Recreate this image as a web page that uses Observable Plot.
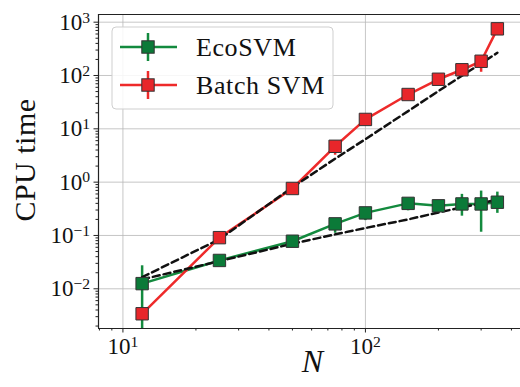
<!DOCTYPE html>
<html><head><meta charset="utf-8">
<script src="https://cdn.jsdelivr.net/npm/d3@7"></script>
<script src="https://cdn.jsdelivr.net/npm/@observablehq/plot@0.6"></script>
<style>
body{margin:0;background:#fff;overflow:hidden}
#chart{position:relative;width:520px;height:387px}
</style></head><body><div id="chart"></div>
<script>
// ---- data ----
const N = [12, 25, 50, 75, 100, 150, 200, 250, 300, 350];
const ecoTime = [0.0125, 0.034, 0.078, 0.165, 0.265, 0.40, 0.36, 0.39, 0.39, 0.42];
const ecoLow  = [0.0005, 0.031, 0.072, 0.11, 0.19, 0.29, 0.33, 0.23, 0.115, 0.26];
const ecoHigh = [0.027, 0.037, 0.085, 0.20, 0.30, 0.45, 0.40, 0.59, 0.68, 0.65];
const ecoFit  = [0.015, 0.033, 0.07, 0.105, 0.138, 0.20, 0.27, 0.335, 0.40, 0.47];
const batchTime = [0.0034, 0.091, 0.76, 4.7, 15, 44, 85, 128, 185, 750];
const batchLow  = [0.0030, 0.085, 0.72, 3.2, 14, 41, 80, 120, 115, 720];
const batchHigh = [0.0038, 0.097, 0.80, 5.8, 16, 47, 90, 136, 230, 780];
const batchFit  = [0.0165, 0.085, 0.8, 2.75, 6.4, 21.5, 51, 99, 168, 267];
const seriesNames = ["EcoSVM", "Batch SVM"];
const seriesColors = ["#138a3e", "#ee2a2a"];
const markerFills = ["#0b7a38", "#e8262a"];
const yMajor = [1e-2, 1e-1, 1e0, 1e1, 1e2, 1e3];
const xMajor = [1e1, 1e2];
const xDomain = [7.93, 436];
const yDomain = [0.0018, 1393];
const yLabel = "CPU time";
const xLabel = "N";

const eco = N.map((n, i) => ({N: n, t: ecoTime[i], lo: ecoLow[i], hi: ecoHigh[i], fit: ecoFit[i]}));
const batch = N.map((n, i) => ({N: n, t: batchTime[i], lo: batchLow[i], hi: batchHigh[i], fit: batchFit[i]}));

const yMinor = [];
for (let e = -3; e <= 3; e++) for (let k = 2; k <= 9; k++) { const v = k * 10 ** e; if (v >= yDomain[0] && v <= yDomain[1]) yMinor.push(v); }
const xMinor = [];
for (let e = 0; e <= 2; e++) for (let k = 2; k <= 9; k++) { const v = k * 10 ** e; if (v >= xDomain[0] && v <= xDomain[1]) xMinor.push(v); }

const expFmt = d => `10^${Math.round(Math.log10(d))}`;
const spine = "#222";

const chart = Plot.plot({
  width: 520, height: 387,
  marginLeft: 98, marginRight: 0, marginTop: 14, marginBottom: 59,
  style: {fontFamily: "'Liberation Serif', serif", fontSize: "23px", background: "#fff", color: "#111"},
  x: {type: "log", domain: xDomain},
  y: {type: "log", domain: yDomain},
  marks: [
    Plot.gridY(yMajor, {stroke: "#b8b8b8", strokeOpacity: 0.8, strokeWidth: 1}),
    Plot.gridX(xMajor, {stroke: "#b8b8b8", strokeOpacity: 0.8, strokeWidth: 1}),
    Plot.axisY(yMinor, {tickSize: 2.5, tickFormat: () => "", label: null, stroke: spine}),
    Plot.axisX(xMinor, {tickSize: 2.5, tickFormat: () => "", label: null, stroke: spine}),
    Plot.axisY(yMajor, {tickSize: 4.5, tickPadding: 4, tickFormat: expFmt, label: null, stroke: spine}),
    Plot.axisX(xMajor, {tickSize: 4.5, tickPadding: 5, tickFormat: expFmt, label: null, stroke: spine}),
    Plot.ruleX([xDomain[0]], {stroke: spine, strokeWidth: 1.2}),
    Plot.ruleY([yDomain[0]], {stroke: spine, strokeWidth: 1.2}),
    Plot.ruleY([yDomain[1]], {stroke: spine, strokeWidth: 1.2}),
    Plot.line(eco, {x: "N", y: "t", stroke: seriesColors[0], strokeWidth: 2.5}),
    Plot.line(batch, {x: "N", y: "t", stroke: seriesColors[1], strokeWidth: 2.5}),
    Plot.ruleX(eco, {x: "N", y1: "lo", y2: "hi", stroke: seriesColors[0], strokeWidth: 2.5, clip: true}),
    Plot.ruleX(batch, {x: "N", y1: "lo", y2: "hi", stroke: seriesColors[1], strokeWidth: 2.5, clip: true}),
    Plot.line(eco, {x: "N", y: "fit", stroke: "#111", strokeWidth: 2.5, strokeDasharray: "7,4"}),
    Plot.line(batch, {x: "N", y: "fit", stroke: "#111", strokeWidth: 2.5, strokeDasharray: "7,4"}),
    Plot.dot(eco, {x: "N", y: "t", symbol: "square", r: 7, fill: markerFills[0], stroke: "#333", strokeWidth: 1}),
    Plot.dot(batch, {x: "N", y: "t", symbol: "square", r: 7, fill: markerFills[1], stroke: "#333", strokeWidth: 1}),
    Plot.text([xLabel], {frameAnchor: "bottom", dx: 3, dy: 43, fontSize: 32, fontStyle: "italic", fill: "#111"})
  ]
});

const svg = d3.select(chart);
// superscript exponents in tick labels
svg.selectAll("text").each(function () {
  const t = this.textContent;
  const m = /^10\^(-?\d+)$/.exec(t);
  if (!m) return;
  const el = d3.select(this);
  el.text(null);
  el.append("tspan").text("10");
  el.append("tspan").attr("dy", "-0.45em").attr("font-size", "0.68em").text(m[1].replace("-", "\u2212"));
});

// y axis label
svg.append("text").attr("transform", "translate(24,160) rotate(-90)")
  .attr("text-anchor", "middle").attr("dy", "0.35em")
  .attr("font-family", "'Liberation Serif', serif").attr("font-size", 30)
  .attr("letter-spacing", "0.5px").attr("fill", "#111").text(yLabel);

// legend (inside the axes, upper left)
const lg = svg.append("g").attr("font-family", "'Liberation Serif', serif").attr("text-anchor", "start");
lg.append("rect").attr("x", 112).attr("y", 27).attr("width", 221).attr("height", 82)
  .attr("rx", 4).attr("fill", "#fff").attr("fill-opacity", 0.85).attr("stroke", "#cfcfcf");
seriesNames.forEach((name, i) => {
  const y = 47 + i * 38;
  lg.append("line").attr("x1", 120).attr("x2", 177).attr("y1", y).attr("y2", y)
    .attr("stroke", seriesColors[i]).attr("stroke-width", 2.5);
  lg.append("line").attr("x1", 148).attr("x2", 148).attr("y1", y - 14).attr("y2", y + 14)
    .attr("stroke", seriesColors[i]).attr("stroke-width", 2.5);
  lg.append("rect").attr("x", 148 - 6.2).attr("y", y - 6.2).attr("width", 12.4).attr("height", 12.4)
    .attr("fill", markerFills[i]).attr("stroke", "#333");
  lg.append("text").attr("x", 196).attr("y", y + 8.5).attr("font-size", 26).attr("letter-spacing", "0.6px")
    .attr("fill", "#111").attr("text-anchor", "start").text(name);
});

document.getElementById("chart").appendChild(chart);
</script></body></html>
